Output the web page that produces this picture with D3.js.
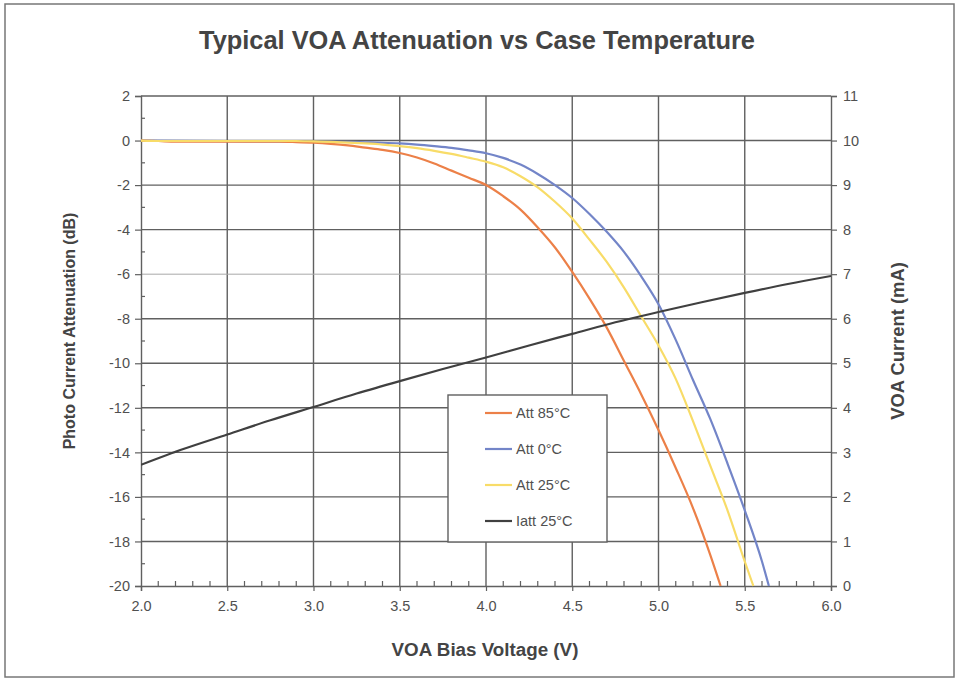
<!DOCTYPE html>
<html>
<head>
<meta charset="utf-8">
<script src="https://cdn.jsdelivr.net/npm/d3@7"></script>
<style>
  html, body { margin: 0; padding: 0; background: #fff; }
  svg { display: block; font-family: "Liberation Sans", Arial, sans-serif; }
</style>
</head>
<body>
<svg id="chart" width="960" height="681"></svg>
<script>
// Typical VOA Attenuation vs Case Temperature

// --- data ---
const att85V  = [2.0, 2.1, 2.2, 2.5, 2.8, 2.9, 3.0, 3.1, 3.2, 3.3, 3.4, 3.5, 3.6, 3.7, 3.8, 3.9, 4.0, 4.1, 4.2, 4.3, 4.4, 4.5, 4.6, 4.7, 4.8, 4.9, 5.0, 5.1, 5.2, 5.3, 5.36];
const att85dB = [0, -0.02, -0.05, -0.05, -0.05, -0.07, -0.1, -0.15, -0.22, -0.32, -0.42, -0.56, -0.76, -1.03, -1.35, -1.67, -2.0, -2.5, -3.1, -3.9, -4.8, -5.9, -7.1, -8.4, -9.9, -11.4, -13.0, -14.7, -16.5, -18.6, -20];

const att0V  = [2.0, 2.5, 3.0, 3.1, 3.2, 3.3, 3.4, 3.5, 3.6, 3.7, 3.8, 3.9, 4.0, 4.1, 4.2, 4.3, 4.4, 4.5, 4.6, 4.7, 4.8, 4.9, 5.0, 5.1, 5.2, 5.3, 5.4, 5.5, 5.6, 5.64];
const att0dB = [0, -0.03, -0.05, -0.05, -0.06, -0.08, -0.1, -0.13, -0.18, -0.25, -0.33, -0.44, -0.57, -0.78, -1.08, -1.5, -2.0, -2.58, -3.3, -4.1, -5.0, -6.1, -7.35, -8.95, -10.75, -12.5, -14.5, -16.6, -18.9, -20];

const att25V  = [2.0, 2.1, 2.5, 2.9, 3.0, 3.1, 3.2, 3.3, 3.4, 3.5, 3.6, 3.7, 3.8, 3.9, 4.0, 4.1, 4.2, 4.3, 4.4, 4.5, 4.6, 4.7, 4.8, 4.9, 5.0, 5.1, 5.2, 5.3, 5.4, 5.5, 5.55];
const att25dB = [0, -0.02, -0.02, -0.02, -0.04, -0.06, -0.09, -0.13, -0.18, -0.25, -0.34, -0.46, -0.6, -0.77, -0.95, -1.2, -1.6, -2.1, -2.75, -3.5, -4.45, -5.45, -6.6, -7.9, -9.2, -10.7, -12.6, -14.6, -16.6, -18.9, -20];

const iattV  = [2.0, 2.25, 2.5, 2.75, 3.0, 3.25, 3.5, 3.75, 4.0, 4.25, 4.5, 4.75, 5.0, 5.25, 5.5, 5.75, 6.0];
const iattMA = [2.72, 3.08, 3.4, 3.72, 4.02, 4.32, 4.6, 4.87, 5.13, 5.4, 5.66, 5.92, 6.15, 6.37, 6.58, 6.78, 6.96];

const xTicks = [2.0, 2.5, 3.0, 3.5, 4.0, 4.5, 5.0, 5.5, 6.0];
const yLeftTicks = [2, 0, -2, -4, -6, -8, -10, -12, -14, -16, -18, -20];
const yRightTicks = [11, 10, 9, 8, 7, 6, 5, 4, 3, 2, 1, 0];

const series = [
  { name: 'Att 85°C',  xs: att85V, ys: att85dB, color: '#ec8048', axis: 'left' },
  { name: 'Att 0°C',   xs: att0V,  ys: att0dB,  color: '#7385c8', axis: 'left' },
  { name: 'Att 25°C',  xs: att25V, ys: att25dB, color: '#f8dc68', axis: 'left' },
  { name: 'Iatt 25°C', xs: iattV,  ys: iattMA,  color: '#404040', axis: 'right' }
];
// yellow sits on top of the others along the flat start
const drawOrder = [1, 0, 2, 3];

// --- layout ---
const svg = d3.select('#chart');
const m = { left: 141, right: 831, top: 96, bottom: 586 };
const textCol = '#505050';
const gridCol = '#606060';

svg.append('rect')
  .attr('x', 5).attr('y', 4).attr('width', 949).attr('height', 673)
  .attr('fill', '#fff').attr('stroke', '#777').attr('stroke-width', 1.5);

const x = d3.scaleLinear().domain([2, 6]).range([m.left, m.right]);
const yL = d3.scaleLinear().domain([-20, 2]).range([m.bottom, m.top]);
const yR = d3.scaleLinear().domain([0, 11]).range([m.bottom, m.top]);

// --- grid ---
const grid = svg.append('g');
grid.selectAll('line.v').data(xTicks.slice(1, -1)).join('line')
  .attr('x1', d => x(d)).attr('x2', d => x(d))
  .attr('y1', m.top).attr('y2', m.bottom)
  .attr('stroke', gridCol).attr('stroke-width', 1.4);
grid.selectAll('line.h').data(yLeftTicks.slice(0, -1)).join('line')
  .attr('x1', m.left).attr('x2', m.right)
  .attr('y1', d => yL(d)).attr('y2', d => yL(d))
  .attr('stroke', d => d === -6 ? '#a8a8a8' : gridCol)
  .attr('stroke-width', d => d === -6 ? 1 : 1.4);

// --- axes ---
const plain = d => String(d);   // hyphen-minus like the original, not U+2212
const axL = svg.append('g').attr('transform', `translate(${m.left},0)`)
  .call(d3.axisLeft(yL).tickValues(yLeftTicks).tickSize(6).tickPadding(5).tickFormat(plain));
const axR = svg.append('g').attr('transform', `translate(${m.right},0)`)
  .call(d3.axisRight(yR).tickValues(yRightTicks).tickSize(6).tickPadding(6).tickFormat(plain));
const axB = svg.append('g').attr('transform', `translate(0,${m.bottom})`)
  .call(d3.axisBottom(x).tickValues(xTicks).tickSize(5).tickPadding(10).tickFormat(d3.format('.1f')));

[axL, axR, axB].forEach(ax => {
  ax.select('.domain').attr('stroke', gridCol).attr('stroke-width', 1.4);
  ax.selectAll('.tick line').attr('stroke', gridCol).attr('stroke-width', 1.2);
  ax.selectAll('.tick text').attr('fill', textCol)
    .style('font-family', '"Liberation Sans", Arial, sans-serif').style('font-size', '14.5px');
});

// minor ticks: odd dB inside on the left, 0.1 V inside on the bottom
const minorY = d3.range(-19, 2, 2);
svg.append('g').selectAll('line').data(minorY).join('line')
  .attr('x1', m.left).attr('x2', m.left + 4)
  .attr('y1', d => yL(d)).attr('y2', d => yL(d))
  .attr('stroke', gridCol).attr('stroke-width', 1.2);
const minorX = d3.range(21, 60).map(d => d / 10).filter(d => Math.round(d * 10) % 5 !== 0);
svg.append('g').selectAll('line').data(minorX).join('line')
  .attr('x1', d => x(d)).attr('x2', d => x(d))
  .attr('y1', m.bottom).attr('y2', m.bottom - 5)
  .attr('stroke', gridCol).attr('stroke-width', 1.2);

// --- curves ---
svg.append('clipPath').attr('id', 'plot-clip').append('rect')
  .attr('x', m.left).attr('y', m.top).attr('width', m.right - m.left).attr('height', m.bottom - m.top + 1);

drawOrder.forEach(i => {
  const s = series[i];
  const yS = s.axis === 'left' ? yL : yR;
  const pts = s.xs.map((v, k) => [v, s.ys[k]]);
  const line = d3.line().x(d => x(d[0])).y(d => yS(d[1])).curve(d3.curveMonotoneX);
  svg.append('path').datum(pts)
    .attr('d', line)
    .attr('fill', 'none')
    .attr('stroke', s.color)
    .attr('stroke-width', 2.2)
    .attr('clip-path', 'url(#plot-clip)');
});

// --- legend ---
const lg = svg.append('g').attr('transform', 'translate(448,395)');
lg.append('rect').attr('width', 159).attr('height', 147)
  .attr('fill', '#fff').attr('stroke', gridCol).attr('stroke-width', 1.4);
series.forEach((s, i) => {
  const yy = 18 + i * 36;
  lg.append('line').attr('x1', 37).attr('x2', 64).attr('y1', yy).attr('y2', yy)
    .attr('stroke', s.color).attr('stroke-width', 2.2);
  lg.append('text').attr('x', 68).attr('y', yy + 5)
    .attr('fill', textCol).style('font-size', '14.5px').text(s.name);
});

// --- titles ---
svg.append('text').attr('x', 477).attr('y', 49).attr('text-anchor', 'middle')
  .attr('fill', '#444').style('font-size', '26px').style('font-weight', 'bold')
  .attr('textLength', 556).attr('lengthAdjust', 'spacingAndGlyphs')
  .text('Typical VOA Attenuation vs Case Temperature');

svg.append('text').attr('x', 485).attr('y', 656).attr('text-anchor', 'middle')
  .attr('fill', '#444').style('font-size', '18.8px').style('font-weight', 'bold')
  .text('VOA Bias Voltage (V)');

svg.append('text').attr('transform', 'translate(75,331) rotate(-90)').attr('text-anchor', 'middle')
  .attr('fill', '#444').style('font-size', '16px').style('font-weight', 'bold')
  .text('Photo Current Attenuation (dB)');

svg.append('text').attr('transform', 'translate(904,341) rotate(-90)').attr('text-anchor', 'middle')
  .attr('fill', '#444').style('font-size', '18.4px').style('font-weight', 'bold')
  .text('VOA Current (mA)');
</script>
</body>
</html>
